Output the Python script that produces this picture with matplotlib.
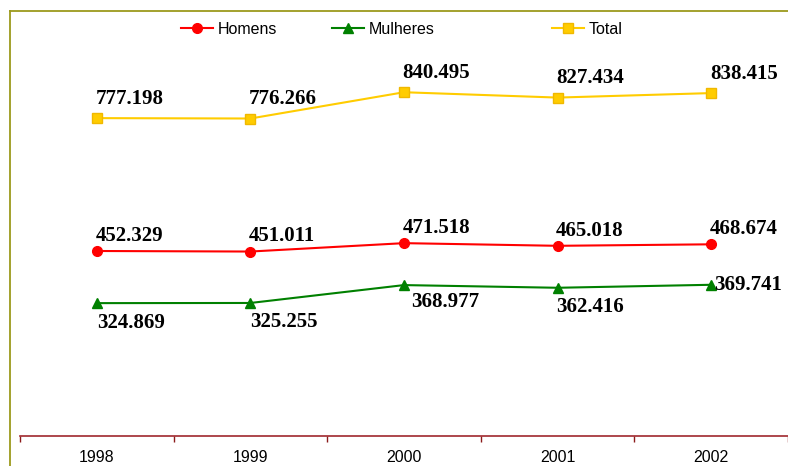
import numpy as np
import matplotlib.pyplot as plt
from matplotlib.lines import Line2D

# Data (thousands, shown with period as separator)
anos = ["1998", "1999", "2000", "2001", "2002"]
homens = [452.329, 451.011, 471.518, 465.018, 468.674]
mulheres = [324.869, 325.255, 368.977, 362.416, 369.741]
total = [777.198, 776.266, 840.495, 827.434, 838.415]

x = np.arange(len(anos))

fig = plt.figure(figsize=(7.88, 4.66), dpi=100)
ax = fig.add_axes([20/788, 30/466, 768/788, 409/466])

l_h, = ax.plot(x, homens, color="#FF0000", lw=1.5, marker="o", ms=7,
               mfc="#FF0000", mec="#FF0000", label="Homens")
l_m, = ax.plot(x, mulheres, color="#008000", lw=1.5, marker="^", ms=7,
               mfc="#008000", mec="#008000", label="Mulheres")
l_t, = ax.plot(x, total, color="#FFCC00", lw=1.5, marker="s", ms=7,
               mfc="#FFCC00", mec="#F0B800", label="Total")

lbl = dict(fontsize=15, fontweight="bold", family="Liberation Serif",
           ha="left", va="center")

# Value labels
for i, v in enumerate(total):
    ax.annotate(f"{v:.3f}", (x[i], v), xytext=(-1, 14), textcoords="offset points", **lbl)
for i, v in enumerate(homens):
    ax.annotate(f"{v:.3f}", (x[i], v), xytext=(-1, 11), textcoords="offset points", **lbl)
m_off = [(0, -14), (0, -14), (5, -12), (-1, -14), (2, 0)]
for i, v in enumerate(mulheres):
    ax.annotate(f"{v:.3f}", (x[i], v), xytext=m_off[i], textcoords="offset points", **lbl)

ax.set_xlim(-0.5, 4.5)
ax.set_ylim(0, 1000)
ax.set_yticks([])
for s in ["top", "right", "left"]:
    ax.spines[s].set_visible(False)
ax.spines["bottom"].set_color("#A0282D")
ax.spines["bottom"].set_linewidth(1.2)

ax.set_xticks(x)
ax.set_xticklabels(anos, family="Liberation Sans", fontsize=11.5)
ax.tick_params(axis="x", which="major", length=0, pad=10)
ax.set_xticks(np.arange(-0.5, 4.6, 1), minor=True)
ax.tick_params(axis="x", which="minor", length=4, color="#8B1A1A", width=1)

# Legend entries spread across the top
for h, xpos in [(l_h, 181), (l_m, 332), (l_t, 552)]:
    lg = fig.legend(handles=[h], loc="center left", bbox_to_anchor=(xpos/788, 1 - 29/466),
                    frameon=False, prop={"family": "Liberation Sans", "size": 11.5},
                    handlelength=2, handletextpad=0.3, borderaxespad=0, borderpad=0)

# Olive frame (top and left)
fig.add_artist(Line2D([10/788, 1], [1 - 11/466, 1 - 11/466], color="#9C9A1C", lw=1.3))
fig.add_artist(Line2D([10/788, 10/788], [0, 1 - 11/466], color="#9C9A1C", lw=1.3))

fig.savefig("out.png", dpi=100)
